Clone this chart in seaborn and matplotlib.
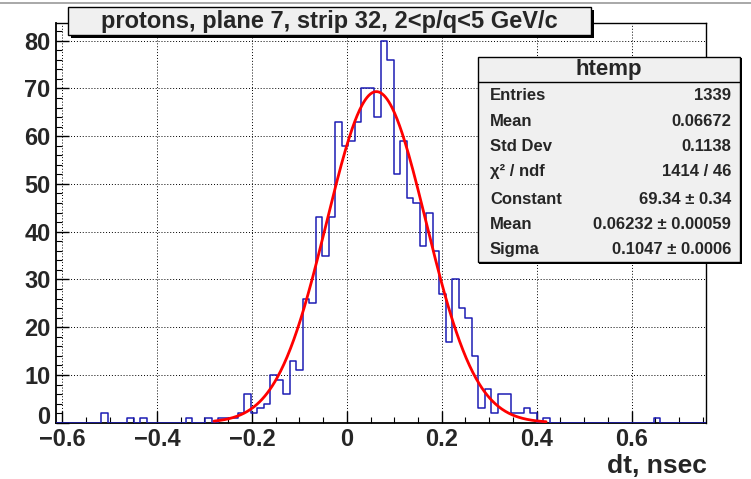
import numpy as np
import pandas as pd
import matplotlib
matplotlib.use("Agg")
import matplotlib.pyplot as plt
from matplotlib.patches import Rectangle
from matplotlib.ticker import MultipleLocator, FuncFormatter
import seaborn as sns

# ---------------- data ----------------
x_min, x_max, n_bins = -0.614, 0.757, 100
counts = [0, 0, 0, 0, 0, 0, 0, 2, 0, 0,
          0, 1, 0, 1, 0, 0, 0, 0, 0, 0,
          1, 0, 0, 1, 0, 1, 1, 1, 2, 6,
          2, 3, 4, 10, 9, 6, 13, 11, 26, 25,
          43, 35, 43, 63, 58, 59, 63, 70, 70, 64,
          80, 76, 52, 59, 47, 46, 37, 44, 36, 27,
          17, 30, 24, 22, 14, 3, 7, 2, 6, 6,
          2, 2, 3, 2, 0, 1, 0, 0, 0, 0,
          0, 0, 0, 0, 0, 0, 0, 0, 0, 0,
          0, 0, 1, 0, 0, 0, 0, 0, 0, 0]
fit_const, fit_mean, fit_sigma = 69.34, 0.06232, 0.1047
fit_range = (-0.28, 0.42)

title = "protons, plane 7, strip 32, 2<p/q<5 GeV/c"
xlabel = "dt, nsec"
stats_name = "htemp"
stats_labels = ["Entries", "Mean", "Std Dev", "\u03c7\u00b2 / ndf", "Constant", "Mean", "Sigma"]
stats_values = ["1339", "0.06672", "0.1138", "1414 / 46",
                "69.34 \u00b1 0.34", "0.06232 \u00b1 0.00059", "0.1047 \u00b1 0.0006"]

# ---------------- figure ----------------
sns.set_theme(style="white")
plt.rcParams['font.family'] = ['Liberation Sans', 'DejaVu Sans']
plt.rcParams['axes.unicode_minus'] = True

W, H = 751, 479
fig = plt.figure(figsize=(W / 100, H / 100), dpi=100)
fig.patch.set_facecolor("white")

def fx(px):
    return px / W

def fy(py):
    return 1 - py / H

# thin canvas edge line at the very top
fig.add_artist(plt.Line2D([0, 1], [fy(2.5), fy(2.5)], transform=fig.transFigure,
                          color="#9a9a9a", linewidth=1.2))

ax_l, ax_r, ax_t, ax_b = 55.5, 706, 22.7, 422.7
ax = fig.add_axes([fx(ax_l), fy(ax_b), fx(ax_r - ax_l), (ax_b - ax_t) / H])
ax.set_facecolor("white")

bw = (x_max - x_min) / n_bins
centers = x_min + bw * (np.arange(n_bins) + 0.5)
hist_df = pd.DataFrame({"dt": centers, "n": np.asarray(counts, dtype=float)})

sns.histplot(data=hist_df, x="dt", weights="n", bins=n_bins, binrange=(x_min, x_max),
             element="step", fill=False, color="#1c1cb4", linewidth=1.1, ax=ax, zorder=3)

xf = np.linspace(fit_range[0], fit_range[1], 400)
yf = fit_const * np.exp(-0.5 * ((xf - fit_mean) / fit_sigma) ** 2)
fit_df = pd.DataFrame({"dt": xf, "f": yf})
sns.lineplot(data=fit_df, x="dt", y="f", color="#ff0000", linewidth=2.0, ax=ax, zorder=4)

ymax = (ax_b - ax_t) / 4.775
ax.set_xlim(x_min, x_max)
ax.set_ylim(0, ymax)

ax.xaxis.set_major_locator(MultipleLocator(0.2))
ax.xaxis.set_minor_locator(MultipleLocator(0.05))
ax.yaxis.set_major_locator(MultipleLocator(10))
ax.yaxis.set_minor_locator(MultipleLocator(2))

def fmt_x(v, pos):
    if abs(v) < 1e-9:
        return "0"
    s = f"{v:.1f}"
    return s.replace("-", "\u2212")

def fmt_y(v, pos):
    iv = int(round(v))
    return "" if iv == 0 else f"{iv}"

ax.xaxis.set_major_formatter(FuncFormatter(fmt_x))
ax.yaxis.set_major_formatter(FuncFormatter(fmt_y))

tick_fs = 17
ax.tick_params(axis="both", which="both", direction="in", top=False, right=False,
               bottom=True, left=True, color="black")
ax.tick_params(axis="x", which="major", length=9, width=1.0, labelsize=tick_fs, pad=3.5)
ax.tick_params(axis="x", which="minor", length=4.5, width=0.8)
ax.tick_params(axis="y", which="major", length=9, width=1.0, labelsize=tick_fs, pad=3.5)
ax.tick_params(axis="y", which="minor", length=4.5, width=0.8)
for lab in ax.get_xticklabels() + ax.get_yticklabels():
    lab.set_fontweight("bold")
# zero label of y axis, lifted slightly as in the reference
fig.text(fx(50.5), fy(417.5), "0", ha="right", va="center", fontsize=tick_fs,
         fontweight="bold")

ax.grid(True, which="major", linestyle=(0, (1, 2)), color="black", linewidth=0.7)
for sp in ax.spines.values():
    sp.set_visible(True)
    sp.set_color("black")
    sp.set_linewidth(1.0)
ax.spines["left"].set_linewidth(1.3)
ax.spines["bottom"].set_linewidth(1.3)

ax.set_xlabel("")
ax.set_ylabel("")
fig.text(fx(707), fy(473), xlabel, ha="right", va="baseline",
         fontsize=19, fontweight="bold")

# title box with shadow
tb_l, tb_r, tb_t, tb_b = 67.5, 591, 7.3, 34.5
fig.patches.append(Rectangle((fx(tb_l + 3), fy(tb_b + 3)), fx(tb_r - tb_l), (tb_b - tb_t) / H,
                             transform=fig.transFigure, facecolor="black",
                             edgecolor="none", zorder=10))
fig.patches.append(Rectangle((fx(tb_l), fy(tb_b)), fx(tb_r - tb_l), (tb_b - tb_t) / H,
                             transform=fig.transFigure, facecolor="#f0f0f0",
                             edgecolor="black", linewidth=1.0, zorder=11))
fig.text(fx((tb_l + tb_r) / 2), fy((tb_t + tb_b) / 2 + 0.5), title, ha="center", va="center",
         fontsize=17, fontweight="bold", zorder=12)

# stats box
sb_l, sb_r, sb_t, sb_b = 477.5, 740, 56.7, 262.3
fig.patches.append(Rectangle((fx(sb_l + 1.5), fy(sb_b + 1.5)), fx(sb_r - sb_l), (sb_b - sb_t) / H,
                             transform=fig.transFigure, facecolor="black",
                             edgecolor="none", zorder=10))
fig.patches.append(Rectangle((fx(sb_l), fy(sb_b)), fx(sb_r - sb_l), (sb_b - sb_t) / H,
                             transform=fig.transFigure, facecolor="#f0f0f0",
                             edgecolor="black", linewidth=1.0, zorder=11))
fig.add_artist(plt.Line2D([fx(sb_l), fx(sb_r)], [fy(82.3), fy(82.3)], transform=fig.transFigure,
                          color="black", linewidth=1.0, zorder=12))
fig.text(fx((sb_l + sb_r) / 2), fy(69), stats_name, ha="center", va="center",
         fontsize=16, fontweight="bold", zorder=12)
row_y = [96, 121, 146.7, 171.7, 199, 224.3, 249.5]
for yy, lab, val in zip(row_y, stats_labels, stats_values):
    fig.text(fx(490), fy(yy), lab, ha="left", va="center", fontsize=12,
             fontweight="bold", zorder=12)
    fig.text(fx(731), fy(yy), val, ha="right", va="center", fontsize=12,
             fontweight="bold", zorder=12)

fig.savefig("out.png", dpi=100, facecolor="white")
